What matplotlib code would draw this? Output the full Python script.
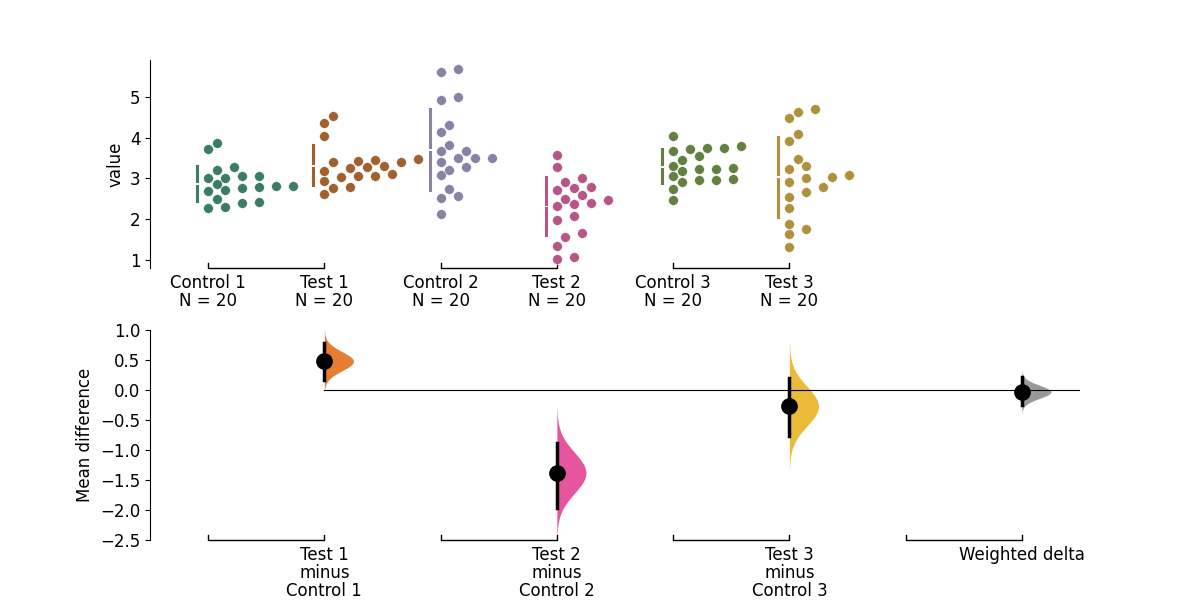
"""Estimation plot: shared-control swarms with mean differences and a weighted delta."""

import matplotlib

matplotlib.use("Agg")
import matplotlib.pyplot as plt
import matplotlib.transforms as mtransforms
import numpy as np

GROUPS = ["Control 1", "Test 1", "Control 2", "Test 2", "Control 3", "Test 3"]
N_LABELS = ["N = 20"] * 6
SWARM_COLORS = ["#3b7c65", "#a0602f", "#8a82a5", "#b65686", "#62803f", "#ad913d"]

control_1 = [3.86, 3.72, 3.27, 3.21, 3.00, 3.02, 3.05, 2.68, 2.71, 2.77, 2.78,
             2.81, 2.82, 2.27, 2.31, 2.39, 2.42, 2.50, 2.86, 3.05]
test_1 = [4.54, 4.35, 4.05, 3.25, 3.39, 3.40, 3.44, 3.48, 3.29, 3.19, 3.06,
          3.05, 3.04, 2.94, 2.77, 2.78, 2.62, 3.42, 3.10, 3.30]
control_2 = [5.60, 5.69, 4.93, 4.99, 4.13, 4.31, 3.66, 3.67, 3.83, 3.40, 3.49,
             3.49, 3.50, 3.21, 3.29, 3.08, 2.51, 2.57, 2.75, 2.13]
test_2 = [3.58, 3.27, 2.91, 3.02, 2.60, 2.72, 2.77, 2.80, 2.33, 2.37, 2.39,
          2.46, 2.50, 1.98, 2.09, 1.57, 1.67, 1.35, 1.02, 1.08]
control_3 = [4.05, 3.75, 3.45, 3.54, 3.67, 3.72, 3.74, 3.79, 3.05, 3.18, 3.23,
             3.24, 3.26, 3.31, 2.91, 2.96, 2.96, 2.98, 2.73, 2.48]
test_3 = [4.48, 4.62, 4.71, 3.92, 4.09, 3.24, 3.31, 3.47, 2.91, 3.01, 3.03,
          3.09, 2.27, 2.55, 2.67, 2.79, 1.64, 1.75, 1.89, 1.31]
SWARMS = [control_1, test_1, control_2, test_2, control_3, test_3]

DELTA_POS = [1, 3, 5, 7]
DELTA_LABELS = ["Test 1\nminus\nControl 1", "Test 2\nminus\nControl 2",
                "Test 3\nminus\nControl 3", "Weighted delta"]
DELTA_MEAN = [0.48, -1.38, -0.27, -0.03]
DELTA_CI_LO = [0.17, -1.97, -0.77, -0.25]
DELTA_CI_HI = [0.78, -0.88, 0.20, 0.22]
DELTA_SPREAD = [0.16, 0.34, 0.33, 0.11]  # sd of bootstrap distribution
DELTA_COLORS = ["#e67d32", "#e8559f", "#eabb36", "#999999"]

PX_X = 116.25  # pixels per x unit
PX_Y = 40.75   # pixels per y unit (top panel)
DOT_PX = 10.0


def swarm_offsets(values):
    """One-sided beeswarm, offsets in x data units."""
    order = np.argsort(values)
    placed = []
    offs = np.zeros(len(values))
    for i in order:
        y = values[i] * PX_Y
        k = 0
        while True:
            x = k * DOT_PX * 0.85
            if all((x - px) ** 2 + (y - py) ** 2 >= DOT_PX ** 2 for px, py in placed):
                break
            k += 1
        placed.append((x, y))
        offs[i] = x / PX_X
    return offs


def bracket(ax, x0, x1):
    tr = mtransforms.blended_transform_factory(ax.transData, ax.transAxes)
    ax.plot([x0, x0, x1, x1], [0.025, 0, 0, 0.025], color="black", lw=1,
            transform=tr, clip_on=False)


fig = plt.figure(figsize=(12, 6), dpi=100)
ax_top = fig.add_axes([0.125, 0.553, 0.775, 0.347])
ax_bot = fig.add_axes([0.125, 0.1, 0.775, 0.35])

# --- top: swarms ---
for i, (vals, c) in enumerate(zip(SWARMS, SWARM_COLORS)):
    vals = np.array(vals)
    ax_top.scatter(i + swarm_offsets(vals), vals, s=50, color=c, zorder=3,
                   edgecolor="white", linewidth=0.4)
    m, sd = vals.mean(), vals.std(ddof=1)
    gx = i - 0.095
    ax_top.plot([gx, gx], [m - sd, m - 0.06], color=c, lw=2.2)
    ax_top.plot([gx, gx], [m + 0.06, m + sd], color=c, lw=2.2)

ax_top.set_xlim(-0.5, 7.5)
ax_top.set_ylim(0.8, 5.9)
ax_top.set_yticks([1, 2, 3, 4, 5])
ax_top.set_xticks(range(6))
ax_top.set_xticklabels([f"{g}\n{n}" for g, n in zip(GROUPS, N_LABELS)],
                       fontsize=12, linespacing=1.0)
ax_top.tick_params(axis="x", bottom=False, pad=1)
ax_top.tick_params(axis="y", labelsize=12)
ax_top.set_ylabel("value", fontsize=12)
for s in ["top", "right", "bottom"]:
    ax_top.spines[s].set_visible(False)
for a in (0, 2, 4):
    bracket(ax_top, a, a + 1)

# --- bottom: deltas ---
ax_bot.axhline(0, xmin=1.5 / 8, xmax=1, color="black", lw=0.8)
for x, m, lo, hi, sd, c in zip(DELTA_POS, DELTA_MEAN, DELTA_CI_LO, DELTA_CI_HI,
                               DELTA_SPREAD, DELTA_COLORS):
    yy = np.linspace(m - 3.2 * sd, m + 3.2 * sd, 200)
    dens = np.exp(-0.5 * ((yy - m) / sd) ** 2)
    ax_bot.fill_betweenx(yy, x, x + 0.25 * dens, color=c, lw=0)
    ax_bot.plot([x, x], [lo, hi], color="black", lw=2.5, zorder=4)
    ax_bot.plot(x, m, "o", color="black", ms=11, zorder=5)

ax_bot.set_xlim(-0.5, 7.5)
ax_bot.set_ylim(-2.5, 1.0)
ax_bot.set_yticks(np.arange(-2.5, 1.01, 0.5))
ax_bot.set_xticks(DELTA_POS)
ax_bot.set_xticklabels(DELTA_LABELS, fontsize=12, linespacing=1.0)
ax_bot.tick_params(axis="x", bottom=False, pad=1)
ax_bot.tick_params(axis="y", labelsize=12)
ax_bot.set_ylabel("Mean difference", fontsize=12)
for s in ["top", "right", "bottom"]:
    ax_bot.spines[s].set_visible(False)
for a in (0, 2, 4, 6):
    bracket(ax_bot, a, a + 1)

fig.savefig("out.png", dpi=100)
